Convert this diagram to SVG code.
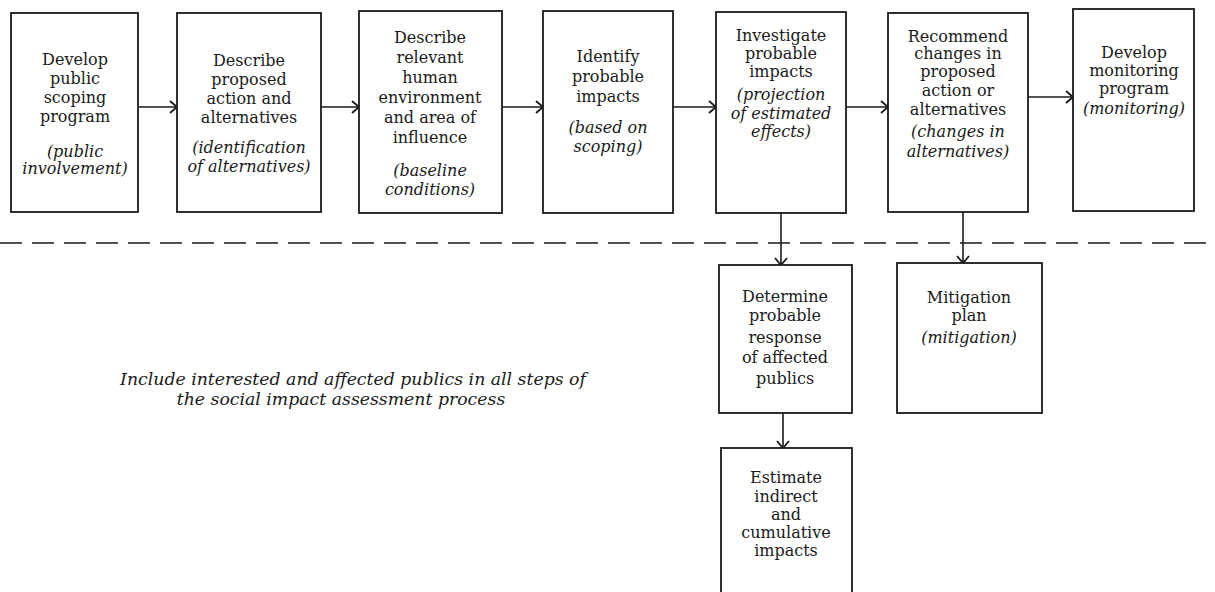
<svg xmlns="http://www.w3.org/2000/svg" width="1215" height="592" viewBox="0 0 1215 592">
<style>
.box{fill:#fff;stroke:#1a1a1a;stroke-width:1.8}
.t{font-family:"DejaVu Serif","Liberation Serif",serif;font-size:16px;fill:#1a1a1a;text-anchor:middle}
.i{font-style:italic}
.n{font-size:17.3px}
.c{stroke:#1a1a1a;stroke-width:1.6;fill:none}
</style>
<defs>
<marker id="ah" markerUnits="userSpaceOnUse" markerWidth="12" markerHeight="14" refX="9" refY="7" orient="auto">
<path d="M2,1 L9,7 L2,13" fill="none" stroke="#1a1a1a" stroke-width="1.8"/>
</marker>
</defs>
<g id="connectors">
<line class="c" x1="139" y1="107" x2="177" y2="107" marker-end="url(#ah)"/>
<line class="c" x1="321" y1="107" x2="359" y2="107" marker-end="url(#ah)"/>
<line class="c" x1="502" y1="107" x2="543" y2="107" marker-end="url(#ah)"/>
<line class="c" x1="673" y1="107" x2="716" y2="107" marker-end="url(#ah)"/>
<line class="c" x1="846" y1="107" x2="888" y2="107" marker-end="url(#ah)"/>
<line class="c" x1="1028" y1="97" x2="1073" y2="97" marker-end="url(#ah)"/>
<line class="c" x1="781" y1="213" x2="781" y2="265" marker-end="url(#ah)"/>
<line class="c" x1="963" y1="212" x2="963" y2="263" marker-end="url(#ah)"/>
<line class="c" x1="783" y1="413" x2="783" y2="448" marker-end="url(#ah)"/>
<line class="c" x1="0" y1="243" x2="1215" y2="243" stroke-dasharray="22,10"/>
</g>
<g id="n1"><rect class="box" x="11" y="13" width="127" height="199"/>
<text class="t"><tspan x="75" y="65">Develop</tspan><tspan x="75" y="84">public</tspan><tspan x="75" y="103">scoping</tspan><tspan x="75" y="122">program</tspan></text>
<text class="t i"><tspan x="75" y="157">(public</tspan><tspan x="75" y="174">involvement)</tspan></text></g>
<g id="n2"><rect class="box" x="177" y="13" width="144" height="199"/>
<text class="t"><tspan x="249" y="66">Describe</tspan><tspan x="249" y="85">proposed</tspan><tspan x="249" y="104">action and</tspan><tspan x="249" y="123">alternatives</tspan></text>
<text class="t i"><tspan x="249" y="153">(identification</tspan><tspan x="249" y="172">of alternatives)</tspan></text></g>
<g id="n3"><rect class="box" x="359" y="11" width="143" height="202"/>
<text class="t"><tspan x="430" y="43">Describe</tspan><tspan x="430" y="63">relevant</tspan><tspan x="430" y="83">human</tspan><tspan x="430" y="103">environment</tspan><tspan x="430" y="123">and area of</tspan><tspan x="430" y="143">influence</tspan></text>
<text class="t i"><tspan x="430" y="176">(baseline</tspan><tspan x="430" y="195">conditions)</tspan></text></g>
<g id="n4"><rect class="box" x="543" y="11" width="130" height="202"/>
<text class="t"><tspan x="608" y="62">Identify</tspan><tspan x="608" y="82">probable</tspan><tspan x="608" y="102">impacts</tspan></text>
<text class="t i"><tspan x="608" y="133">(based on</tspan><tspan x="608" y="152">scoping)</tspan></text></g>
<g id="n5"><rect class="box" x="716" y="12" width="130" height="201"/>
<text class="t"><tspan x="781" y="41">Investigate</tspan><tspan x="781" y="59">probable</tspan><tspan x="781" y="77">impacts</tspan></text>
<text class="t i"><tspan x="781" y="100">(projection</tspan><tspan x="781" y="119">of estimated</tspan><tspan x="781" y="137">effects)</tspan></text></g>
<g id="n6"><rect class="box" x="888" y="13" width="140" height="199"/>
<text class="t"><tspan x="958" y="42">Recommend</tspan><tspan x="958" y="59">changes in</tspan><tspan x="958" y="77">proposed</tspan><tspan x="958" y="96">action or</tspan><tspan x="958" y="115">alternatives</tspan></text>
<text class="t i"><tspan x="958" y="137">(changes in</tspan><tspan x="958" y="157">alternatives)</tspan></text></g>
<g id="n7"><rect class="box" x="1073" y="9" width="121" height="202"/>
<text class="t"><tspan x="1134" y="58">Develop</tspan><tspan x="1134" y="76">monitoring</tspan><tspan x="1134" y="94">program</tspan></text>
<text class="t i"><tspan x="1134" y="114">(monitoring)</tspan></text></g>
<g id="n8"><rect class="box" x="719" y="265" width="133" height="148"/>
<text class="t"><tspan x="785" y="302">Determine</tspan><tspan x="785" y="321">probable</tspan><tspan x="785" y="343">response</tspan><tspan x="785" y="363">of affected</tspan><tspan x="785" y="384">publics</tspan></text></g>
<g id="n9"><rect class="box" x="897" y="263" width="145" height="150"/>
<text class="t"><tspan x="969" y="303">Mitigation</tspan><tspan x="969" y="321">plan</tspan></text>
<text class="t i"><tspan x="969" y="343">(mitigation)</tspan></text></g>
<g id="n10"><rect class="box" x="721" y="448" width="131" height="160"/>
<text class="t"><tspan x="786" y="483">Estimate</tspan><tspan x="786" y="502">indirect</tspan><tspan x="786" y="520">and</tspan><tspan x="786" y="538">cumulative</tspan><tspan x="786" y="556">impacts</tspan></text></g>
<g id="note">
<text class="t i n"><tspan x="353" y="385">Include interested and affected publics in all steps of</tspan><tspan x="341" y="405">the social impact assessment process</tspan></text>
</g>
</svg>
